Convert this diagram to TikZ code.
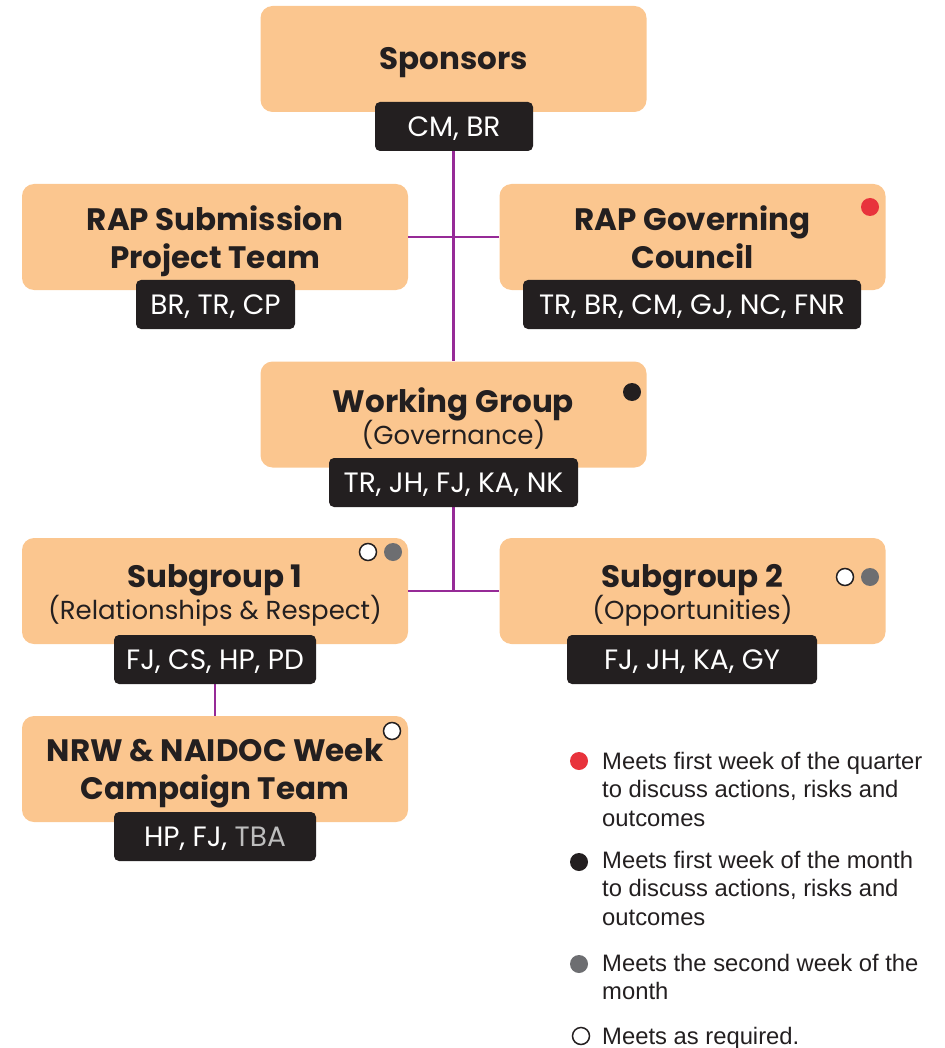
\documentclass[tikz,border=0pt]{standalone}
\usepackage{fontspec}
\setmainfont{Poppins}
\newfontfamily\legendfont{Liberation Sans}
\usepackage{xcolor}
\usepackage{tikz}
\usetikzlibrary{positioning, calc}

\definecolor{peach}{HTML}{FBC68F}
\definecolor{ink}{HTML}{231F20}
\definecolor{linkpurple}{HTML}{962A97}
\definecolor{dotred}{HTML}{E8333C}
\definecolor{dotgrey}{HTML}{6D6E71}
\definecolor{tbagrey}{HTML}{BDBDBD}

\newcommand{\subtitle}[1]{{\fontsize{26}{32}\selectfont\mdseries #1}}

\begin{document}
\begin{tikzpicture}[x=1pt, y=1pt,
    box/.style={rectangle, rounded corners=12pt, fill=peach, inner sep=0pt, minimum width=386pt, minimum height=106pt},
    title/.style={align=center, inner sep=0pt, text=ink, font=\fontsize{31}{38}\selectfont\bfseries},
    tag/.style={rectangle, rounded corners=5pt, fill=ink, inner sep=0pt, minimum height=49pt, text height=22pt, text depth=2.4pt, text=white, font=\fontsize{28}{30}\selectfont},
    dot/.style={circle, inner sep=0pt, minimum size=18pt},
    ring/.style={dot, fill=white, draw=ink, line width=1.5pt, minimum size=17pt},
    link/.style={draw=linkpurple, line width=2.4pt},
    legend/.style={anchor=north west, align=left, inner sep=0pt, text=ink, font=\legendfont\fontsize{23.8}{28.5}\selectfont}]

    \useasboundingbox (0,0) rectangle (944,-1048);

    % Boxes
    \node (sponsors) [box] at (453.5,-59) {};
    \node (rapsub) [box] at (215,-237) {};
    \node (rapgov) [box] at (692.5,-237) {};
    \node (working) [box] at (453.5,-414.5) {};
    \node (sub1) [box] at (215,-591) {};
    \node (sub2) [box] at (692.5,-591) {};
    \node (nrw) [box] at (215,-769) {};

    % Titles
    \node (sponsorstitle) [title] at ([yshift=-4pt]sponsors.center) {Sponsors};
    \node (rapsubtitle) [title] at ([yshift=-4pt]rapsub.center) {RAP Submission\\Project Team};
    \node (rapgovtitle) [title] at ([yshift=0pt]rapgov.center) {RAP Governing\\Council};
    \node (workingtitle) [title] at ([yshift=-4pt]working.center) {Working Group\\[-6pt]\subtitle{(Governance)}};
    \node (sub1title) [title] at ([yshift=-4pt]sub1.center) {Subgroup 1\\[-6pt]\subtitle{(Relationships \& Respect)}};
    \node (sub2title) [title] at ([yshift=-4pt]sub2.center) {Subgroup 2\\[-6pt]\subtitle{(Opportunities)}};
    \node (nrwtitle) [title] at ([yshift=-4pt]nrw.center) {NRW \& NAIDOC Week\\Campaign Team};

    % Connectors
    \draw[link] (sponsors.south) -- (working.north);
    \draw[link] (rapsub.east) -- (rapgov.west);
    \draw[link] (working.south) -- (working.south |- sub1.east);
    \draw[link] (sub1.east) -- (sub2.west);
    \draw[link] (sub1.south) -- (nrw.north);

    % Member tags
    \node (sponsorstag) [tag, minimum width=158pt] at (454,-126.5) {CM, BR};
    \node (rapsubtag) [tag, minimum width=159pt] at (215.5,-304.5) {BR, TR, CP};
    \node (rapgovtag) [tag, minimum width=338pt] at (692,-304.5) {TR, BR, CM, GJ, NC, FNR};
    \node (workingtag) [tag, minimum width=249pt] at (453.5,-482.5) {TR, JH, FJ, KA, NK};
    \node (sub1tag) [tag, minimum width=202pt] at (215,-659.5) {FJ, CS, HP, PD};
    \node (sub2tag) [tag, minimum width=250pt] at (692,-659.5) {FJ, JH, KA, GY};
    \node (nrwtag) [tag, minimum width=202pt] at (215,-836.5) {HP, FJ, \textcolor{tbagrey}{TBA}};

    % Meeting dots
    \node (rapgovdot) [dot, fill=dotred] at (870,-207) {};
    \node (workingdot) [dot, fill=ink] at (632,-392) {};
    \node (sub1white) [ring] at (368,-552) {};
    \node (sub1grey) [dot, fill=dotgrey] at (393,-552) {};
    \node (sub2white) [ring] at (845,-577) {};
    \node (sub2grey) [dot, fill=dotgrey] at (870,-577) {};
    \node (nrwwhite) [ring] at (392,-731) {};

    % Legend
    \node (keyred) [dot, fill=dotred] at (579,-761) {};
    \node (keyredtext) [legend] at (602,-752) {Meets first week of the quarter\\to discuss actions, risks and\\outcomes};
    \node (keyblack) [dot, fill=ink] at (579,-862) {};
    \node (keyblacktext) [legend] at (602,-851) {Meets first week of the month\\to discuss actions, risks and\\outcomes};
    \node (keygrey) [dot, fill=dotgrey] at (579,-964) {};
    \node (keygreytext) [legend] at (602,-954) {Meets the second week of the\\month};
    \node (keywhite) [ring] at (581,-1036) {};
    \node (keywhitetext) [legend] at (602,-1027) {Meets as required.};

\end{tikzpicture}
\end{document}
